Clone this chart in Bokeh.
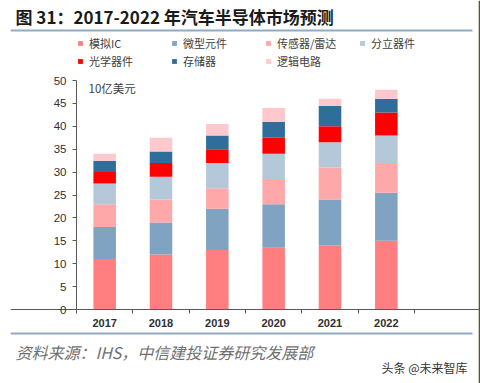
from bokeh.plotting import figure
from bokeh.models import (FactorRange, Range1d, FixedTicker, Legend, LegendItem, Label,
                          CategoricalAxis, LinearAxis)
from bokeh.embed import file_html
from bokeh.resources import INLINE

# ---- data (10亿美元) ----
years = ["2017", "2018", "2019", "2020", "2021", "2022"]
series_names = ["模拟IC", "微型元件", "传感器/雷达", "分立器件", "光学器件", "存储器", "逻辑电路"]
analog_ic = [11, 12, 13, 13.5, 14, 15]
micro = [7, 7, 9, 9.5, 10, 10.5]
sensor_radar = [5, 5, 4.5, 5.5, 7, 6.5]
discrete = [4.5, 5, 5.5, 5.5, 5.5, 6]
optical = [2.5, 3, 3, 3.5, 3.5, 5]
memory = [2.5, 2.5, 3, 3.5, 4.5, 3]
logic = [1.5, 3, 2.5, 3, 1.5, 2]
y_ticks = [0, 5, 10, 15, 20, 25, 30, 35, 40, 45, 50]

colors = ["#FF7F80", "#7FA3C0", "#FFA8AA", "#B4C8DA", "#FF0000", "#2F6E9A", "#FFC8CC"]
keys = ["analog_ic", "micro", "sensor_radar", "discrete", "optical", "memory", "logic"]

source = dict(years=years, analog_ic=analog_ic, micro=micro, sensor_radar=sensor_radar,
              discrete=discrete, optical=optical, memory=memory, logic=logic)

CJK = "Noto Sans CJK SC"
NUM = "Liberation Sans"
TXT = "#404040"
AX = "#595959"
RULE = "#8EABC3"

# ---- layout geometry (pixels) ----
W, H = 480, 383
LEFT = 10                      # frame starts 10px in
X0_PX, X1_PX = 76, 414         # category axis extent
Y0_PX, Y50_PX = 309, 80        # value 0 and value 50
PX_PER_CAT = (X1_PX - X0_PX) / len(years)
PX_PER_UNIT = (Y0_PX - Y50_PX) / 50
frame_w = W - LEFT
pad = (frame_w / PX_PER_CAT - len(years)) / 2      # applied on each side
y_lo = -(H - Y0_PX) / PX_PER_UNIT
y_hi = 50 + Y50_PX / PX_PER_UNIT


def sx(px):   # pixel x -> synthetic categorical coordinate
    return (px - X0_PX) / PX_PER_CAT


def sy(py):   # pixel y -> value coordinate
    return (Y0_PX - py) / PX_PER_UNIT


p = figure(width=W, height=H,
           x_range=FactorRange(*years, range_padding=pad, range_padding_units="absolute"),
           y_range=Range1d(y_lo, y_hi),
           min_border_left=LEFT, min_border_right=0, min_border_top=0, min_border_bottom=0,
           x_axis_location="below", y_axis_location="left",
           output_backend="svg", toolbar_location=None, title=None)
p.outline_line_color = None
p.xgrid.visible = False
p.ygrid.visible = False
p.background_fill_color = "white"
p.border_fill_color = "white"

renderers = p.vbar_stack(keys, x="years", width=0.4, color=colors, line_color=None, source=source)

# y axis, pinned at the left edge of the first category
tick_len = 4 / PX_PER_UNIT
yax = p.yaxis[0]
yax.fixed_location = 0
yax.ticker = FixedTicker(ticks=y_ticks)
yax.bounds = (-tick_len, 50)
yax.axis_line_color = AX
yax.major_tick_line_color = AX
yax.major_tick_in = 0
yax.major_tick_out = 4
yax.minor_tick_line_color = None
yax.major_label_text_font = NUM
yax.major_label_text_font_size = "11.5px"
yax.major_label_text_color = "#303030"
yax.major_label_standoff = 6

# x axis pinned at y = 0
xax = p.xaxis[0]
xax.fixed_location = 0
xax.axis_line_color = AX
xax.major_tick_line_color = None
xax.major_tick_in = 0
xax.major_tick_out = 0
xax.major_label_text_font = NUM
xax.major_label_text_font_size = "11px"
xax.major_label_text_color = "#303030"
xax.major_label_text_font_style = "bold"
xax.major_label_standoff = 9


def vline(x_syn, y0, y1, color, width, side):
    ax = LinearAxis(fixed_location=x_syn, bounds=(y0, y1), ticker=FixedTicker(ticks=[]),
                    axis_line_color=color, axis_line_width=width,
                    major_tick_line_color=None, minor_tick_line_color=None,
                    major_label_text_alpha=0)
    p.add_layout(ax, side)


def hline(py, x0_px, x1_px, color, width):
    ax = CategoricalAxis(fixed_location=sy(py), bounds=(sx(x0_px), sx(x1_px)),
                         axis_line_color=color, axis_line_width=width,
                         major_tick_line_color=None, minor_tick_line_color=None,
                         major_label_overrides={y: "" for y in years},
                         major_label_text_alpha=0)
    p.add_layout(ax, "above")


# separator ticks at category boundaries
for i in range(1, len(years) + 1):
    vline(i, -tick_len, 0, AX, 1, "left")

# rules and page edge
hline(29.5, 0, 472, RULE, 2)
hline(333.3, 0, 472, RULE, 2)
vline(sx(479.2), y_lo, y_hi, "#56563A", 1.6, "right")

# legend, two rows
items = [LegendItem(label=n, renderers=[r]) for n, r in zip(series_names, renderers)]
for row_items, ly in ((items[:4], H - 51), (items[4:], H - 69)):
    lg = Legend(items=row_items, orientation="horizontal", location=(77 - LEFT, ly),
                padding=0, margin=0, spacing=4, glyph_width=6, glyph_height=6,
                label_width=78, label_height=16, label_standoff=6,
                label_text_font=CJK, label_text_font_size="11px", label_text_color=TXT,
                border_line_color=None, background_fill_alpha=0)
    p.add_layout(lg, "center")


def lab(x, y, text, **kw):
    p.add_layout(Label(x=x - LEFT, y=H - y, x_units="screen", y_units="screen", text=text,
                       text_baseline="middle", **kw))


lab(15, 16, "图 31：2017-2022 年汽车半导体市场预测", text_font=CJK, text_font_size="17px",
    text_font_style="bold", text_color="#1A1A1A")
lab(88, 87, "10亿美元", text_font=CJK, text_font_size="11.5px", text_color=TXT)
lab(15, 351, "资料来源：IHS，中信建投证券研究发展部", text_font=CJK, text_font_size="16px",
    text_font_style="italic", text_color="#707070")
lab(381, 367, "头条 @未来智库", text_font=CJK, text_font_size="12px", text_color="#333333")

open("out.html", "w").write(file_html(p, INLINE))
